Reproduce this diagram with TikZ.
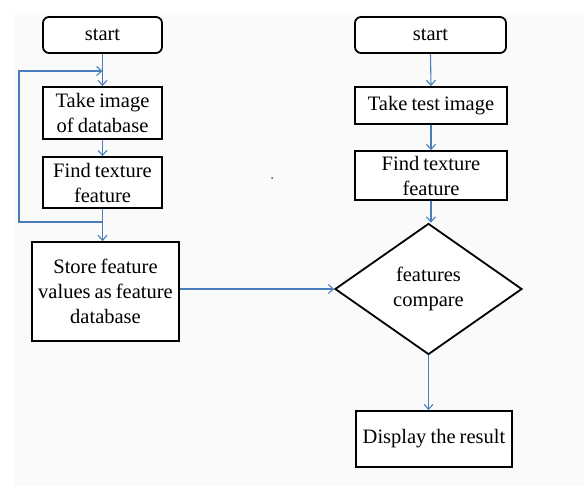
\documentclass[tikz,border=0pt]{standalone}
\usepackage{fontspec}
\setmainfont[WordSpace={0.8}]{Liberation Serif}
\usetikzlibrary{shapes.geometric,arrows.meta}
\definecolor{arrowblue}{HTML}{4A7EBB}
\definecolor{bggray}{HTML}{FAFAFA}
\begin{document}
\begin{tikzpicture}[x=1pt,y=-1pt,
  every node/.style={font=\fontsize{20.5}{25}\selectfont, align=center, inner sep=1pt},
  termbox/.style={draw=black, line width=1.8pt, fill=white, rounded corners=6pt},
  procbox/.style={draw=black, line width=1.8pt, fill=white},
  decbox/.style={draw=black, line width=1.8pt, fill=white, shape=diamond, inner sep=0pt, aspect=1.43},
  link/.style={draw=arrowblue, line width=1.1pt, -{Straight Barb[length=5pt,width=9pt]}}]
\useasboundingbox (0,0) rectangle (584,486);
\fill[bggray] (14,15) rectangle (584,486);
\fill[black!70] (272,178) circle (1pt);
% left column
\node[termbox, minimum width=119pt, minimum height=36pt] (lstart) at (102.5,35) {start};
\node[procbox, minimum width=119pt, minimum height=52pt] (ltake) at (102.5,113) {Take image\\of database};
\node[procbox, minimum width=119pt, minimum height=51pt] (lfind) at (102.5,182.5) {Find texture\\feature};
\node[procbox, minimum width=147pt, minimum height=99pt] (store) at (105.5,291.5) {Store feature\\values as feature\\database};
% right column
\node[termbox, minimum width=151pt, minimum height=36pt] (rstart) at (430.5,35) {start};
\node[procbox, minimum width=152pt, minimum height=37pt] (rtake) at (431,105.5) {Take test image};
\node[procbox, minimum width=152pt, minimum height=49pt] (rfind) at (431,175.5) {Find texture\\feature};
\node[decbox, minimum width=187pt, minimum height=131pt] (dia) at (428.5,289) {features\\compare};
\node[procbox, minimum width=156pt, minimum height=56pt] (disp) at (434,439) {Display the result};
% left connectors
\coordinate (loopin) at (102.5,71);
\coordinate (loopout) at (102.5,222);
\coordinate (loopleft) at (19,222);
\draw[link] (lstart.south) -- (ltake.north);
\draw[link] (ltake.south) -- (lfind.north);
\draw[link] (lfind.south) -- (lfind.south |- store.north);
\draw[link] (loopout) -- (loopleft) |- (loopin);
\draw[link] (store.east |- dia.west) -- (dia.west);
% right connectors
\draw[link] (rstart.south) -- (rtake.north);
\draw[link] (rtake.south) -- (rfind.north);
\draw[link] (rfind.south) -- (rfind.south |- dia.north);
\draw[link] (dia.south) -- (dia.south |- disp.north);
\end{tikzpicture}
\end{document}
